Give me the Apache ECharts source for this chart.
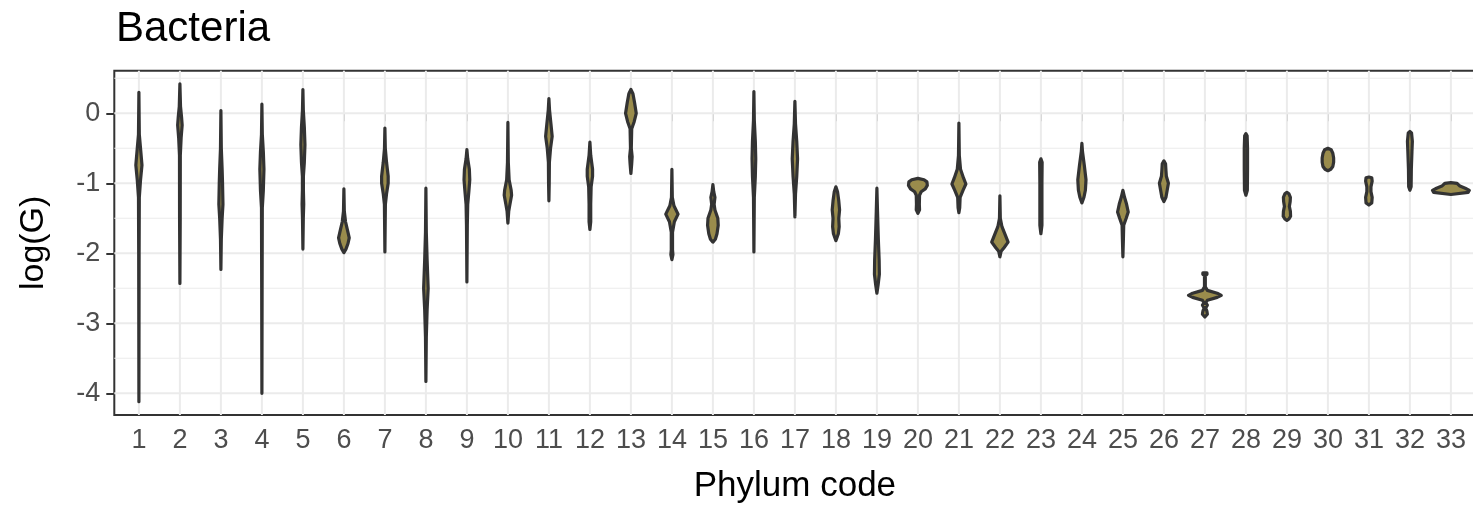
<!DOCTYPE html>
<html>
<head>
<meta charset="utf-8">
<script src="https://cdn.jsdelivr.net/npm/echarts@6/dist/echarts.min.js"></script>
<style>
html,body{margin:0;padding:0;background:#fff;}
#chart{width:1473px;height:507px;}
</style>
</head>
<body>
<div id="chart"></div>
<script>
// Phylum codes (x categories)
const phyla = Array.from({length: 33}, (_, i) => i + 1);
// y-axis tick labels (major) and minor gridlines
const yTicks = [-4, -3, -2, -1, 0];
const yMinor = [-3.5, -2.5, -1.5, -0.5, 0.5];

// Violin outlines: [log(G), half-width in x units]
const v01 = [[0.30,0],[-0.3,0.01],[-0.5,0.04],[-0.74,0.075],[-0.95,0.04],[-1.2,0.01],[-2,0.005],[-4.12,0]];
const v02 = [[0.42,0],[0.1,0.015],[-0.05,0.04],[-0.17,0.055],[-0.35,0.03],[-0.6,0.01],[-1.5,0.008],[-2.43,0]];
const v03 = [[0.04,0],[-0.5,0.01],[-0.8,0.03],[-1.0,0.04],[-1.3,0.05],[-1.5,0.03],[-1.8,0.01],[-2.23,0]];
const v04 = [[0.13,0],[-0.3,0.01],[-0.55,0.035],[-0.8,0.05],[-1.1,0.035],[-1.35,0.01],[-2.5,0.005],[-4.0,0]];
const v05 = [[0.34,0],[0.05,0.01],[-0.2,0.035],[-0.45,0.05],[-0.7,0.035],[-0.9,0.012],[-1.1,0.012],[-1.3,0.02],[-1.5,0.01],[-1.94,0]];
const v06 = [[-1.08,0],[-1.4,0.01],[-1.55,0.04],[-1.7,0.1],[-1.78,0.13],[-1.86,0.1],[-1.94,0.05],[-1.99,0]];
const v07 = [[-0.21,0],[-0.5,0.01],[-0.7,0.04],[-0.9,0.08],[-1.0,0.08],[-1.15,0.04],[-1.3,0.012],[-1.98,0]];
const v08 = [[-1.07,0],[-1.7,0.01],[-2.1,0.03],[-2.5,0.055],[-2.8,0.03],[-3.2,0.01],[-3.83,0]];
const v09 = [[-0.52,0],[-0.65,0.02],[-0.8,0.06],[-0.95,0.07],[-1.1,0.05],[-1.3,0.02],[-1.6,0.01],[-2.41,0]];
const v10 = [[-0.13,0],[-0.7,0.01],[-0.95,0.03],[-1.1,0.08],[-1.17,0.09],[-1.3,0.05],[-1.4,0.02],[-1.57,0]];
const v11 = [[0.21,0],[0.05,0.015],[-0.15,0.05],[-0.33,0.08],[-0.5,0.04],[-0.7,0.012],[-1.0,0.008],[-1.25,0]];
const v12 = [[-0.41,0],[-0.6,0.02],[-0.8,0.065],[-0.9,0.065],[-1.05,0.03],[-1.3,0.02],[-1.55,0.02],[-1.66,0]];
const v13 = [[0.34,0],[0.28,0.05],[0.15,0.09],[0.0,0.13],[-0.12,0.08],[-0.22,0.02],[-0.5,0.01],[-0.62,0.03],[-0.72,0.02],[-0.86,0]];
const v14 = [[-0.8,0],[-1.2,0.01],[-1.32,0.05],[-1.44,0.15],[-1.55,0.06],[-1.7,0.015],[-1.95,0.015],[-2.02,0.025],[-2.09,0]];
const v15 = [[-1.02,0],[-1.12,0.02],[-1.2,0.05],[-1.3,0.03],[-1.38,0.05],[-1.5,0.12],[-1.6,0.13],[-1.72,0.1],[-1.8,0.06],[-1.84,0]];
const v16 = [[0.31,0],[-0.1,0.01],[-0.4,0.035],[-0.65,0.045],[-0.9,0.035],[-1.2,0.01],[-1.98,0]];
const v17 = [[0.17,0],[-0.15,0.015],[-0.4,0.045],[-0.65,0.065],[-0.9,0.045],[-1.15,0.015],[-1.48,0]];
const v18 = [[-1.05,0],[-1.12,0.04],[-1.25,0.07],[-1.38,0.09],[-1.5,0.07],[-1.62,0.08],[-1.72,0.06],[-1.82,0]];
const v19 = [[-1.07,0],[-1.4,0.015],[-1.8,0.035],[-2.1,0.055],[-2.3,0.06],[-2.45,0.03],[-2.57,0]];
const v20 = [[-0.93,0],[-0.95,0.15],[-0.98,0.22],[-1.03,0.23],[-1.08,0.18],[-1.12,0.08],[-1.17,0.04],[-1.3,0.035],[-1.38,0.04],[-1.43,0]];
const v21 = [[-0.14,0],[-0.6,0.01],[-0.8,0.04],[-0.92,0.11],[-1.01,0.17],[-1.1,0.1],[-1.2,0.03],[-1.35,0.02],[-1.42,0]];
const v22 = [[-1.18,0],[-1.5,0.01],[-1.62,0.05],[-1.75,0.14],[-1.84,0.2],[-1.92,0.1],[-1.97,0.03],[-2.05,0]];
const v23 = [[-0.65,0],[-0.7,0.03],[-1.0,0.025],[-1.3,0.025],[-1.6,0.025],[-1.72,0]];
const v24 = [[-0.43,0],[-0.55,0.015],[-0.75,0.06],[-0.95,0.1],[-1.1,0.085],[-1.2,0.05],[-1.28,0]];
const v25 = [[-1.1,0],[-1.2,0.04],[-1.3,0.09],[-1.41,0.13],[-1.5,0.08],[-1.6,0.02],[-1.8,0.012],[-2.05,0]];
const v26 = [[-0.68,0],[-0.72,0.04],[-0.82,0.05],[-0.9,0.06],[-1.0,0.11],[-1.1,0.08],[-1.2,0.05],[-1.26,0]];
const v27 = [[-2.28,0.05],[-2.3,0.05],[-2.32,0.01],[-2.48,0.01],[-2.53,0.06],[-2.57,0.3],[-2.6,0.4],[-2.63,0.3],[-2.67,0.06],[-2.71,0.02],[-2.74,0.06],[-2.78,0.02],[-2.83,0.05],[-2.87,0.06],[-2.91,0]];
const v28 = [[-0.29,0],[-0.32,0.03],[-0.5,0.04],[-0.8,0.04],[-1.1,0.035],[-1.17,0]];
const v29 = [[-1.13,0],[-1.15,0.05],[-1.2,0.085],[-1.26,0.08],[-1.33,0.06],[-1.4,0.085],[-1.47,0.09],[-1.51,0.05],[-1.53,0]];
const v30 = [[-0.5,0],[-0.52,0.08],[-0.57,0.12],[-0.64,0.14],[-0.7,0.14],[-0.76,0.12],[-0.8,0.07],[-0.82,0]];
const v31 = [[-0.91,0],[-0.92,0.07],[-0.97,0.08],[-1.05,0.05],[-1.12,0.05],[-1.2,0.08],[-1.28,0.07],[-1.31,0]];
const v32 = [[-0.26,0],[-0.28,0.04],[-0.4,0.06],[-0.55,0.05],[-0.8,0.035],[-1.05,0.03],[-1.1,0]];
const v33 = [[-0.99,0],[-1.0,0.15],[-1.04,0.22],[-1.07,0.35],[-1.1,0.45],[-1.13,0.42],[-1.16,0]];

const profiles = [v01,v02,v03,v04,v05,v06,v07,v08,v09,v10,v11,v12,v13,v14,v15,v16,v17,v18,v19,v20,v21,v22,v23,v24,v25,v26,v27,v28,v29,v30,v31,v32,v33];

const FONT = "'Liberation Sans', Arial, Helvetica, sans-serif";
const chart = echarts.init(document.getElementById('chart'), null, {renderer: 'canvas'});

const violinData = phyla.map((p, i) => {
  const ys = profiles[i].map(d => d[0]);
  return [p, Math.max(...ys), Math.min(...ys), i];
});

const gridData = [];
phyla.forEach(p => gridData.push(['x', p]));
yTicks.forEach(v => gridData.push(['ymaj', v]));
yMinor.forEach(v => gridData.push(['ymin', v]));

const option = {
  backgroundColor: '#ffffff',
  animation: false,
  title: {
    text: 'Bacteria',
    left: 111,
    top: 3,
    textStyle: {fontFamily: FONT, fontSize: 42, fontWeight: 'normal', color: '#000'}
  },
  grid: {
    left: 114.3, top: 70.7, right: -2.5, bottom: 92,
    show: true, borderColor: '#333333', borderWidth: 2,
    backgroundColor: 'transparent',
    containLabel: false,
    outerBoundsMode: 'none'
  },
  xAxis: {
    type: 'value',
    min: 0.4, max: 33.6,
    name: 'Phylum code',
    nameLocation: 'middle',
    nameGap: 54,
    nameTextStyle: {fontFamily: FONT, fontSize: 35, color: '#000'},
    axisLine: {show: false},
    axisTick: {show: true, customValues: phyla, length: 8, lineStyle: {color: '#333333', width: 2}},
    axisLabel: {customValues: phyla, fontFamily: FONT, fontSize: 27, color: '#4d4d4d', margin: 12},
    splitLine: {show: false}
  },
  yAxis: {
    type: 'value',
    min: -4.31, max: 0.6086,
    name: 'log(G)',
    nameLocation: 'middle',
    nameGap: 64,
    nameTextStyle: {fontFamily: FONT, fontSize: 34, color: '#000'},
    axisLine: {show: false},
    axisTick: {show: true, customValues: yTicks, length: 8, lineStyle: {color: '#333333', width: 2}},
    axisLabel: {customValues: yTicks, fontFamily: FONT, fontSize: 27, color: '#4d4d4d', margin: 14,
      formatter: v => String(v)},
    splitLine: {show: false}
  },
  series: [
    {
      type: 'custom',
      name: 'grid',
      silent: true,
      z: 1,
      data: gridData,
      encode: {x: -1, y: -1},
      renderItem: (params, api) => {
        const kind = gridData[params.dataIndex][0];
        const v = gridData[params.dataIndex][1];
        const cs = params.coordSys;
        if (kind === 'x') {
          const px = api.coord([v, 0])[0];
          return {type: 'line', shape: {x1: px, y1: cs.y, x2: px, y2: cs.y + cs.height},
            style: {stroke: '#ebebeb', lineWidth: 2}};
        }
        const py = api.coord([1, v])[1];
        return {type: 'line', shape: {x1: cs.x, y1: py, x2: cs.x + cs.width, y2: py},
          style: {stroke: '#ebebeb', lineWidth: kind === 'ymaj' ? 2 : 1.1}};
      }
    },
    {
      type: 'custom',
      name: 'violins',
      z: 3,
      data: violinData,
      encode: {x: 0, y: [1, 2]},
      renderItem: (params, api) => {
        const cx = api.value(0);
        const prof = profiles[params.dataIndex];
        const pts = [];
        prof.forEach(d => pts.push(api.coord([cx + d[1], d[0]])));
        for (let k = prof.length - 1; k >= 0; k--) {
          const d = prof[k];
          pts.push(api.coord([cx - d[1], d[0]]));
        }
        return {
          type: 'polygon',
          shape: {points: pts},
          style: {fill: '#9a8c4c', stroke: '#333333', lineWidth: 3.2, lineJoin: 'round'}
        };
      }
    }
  ]
};
chart.setOption(option);
</script>
</body>
</html>
